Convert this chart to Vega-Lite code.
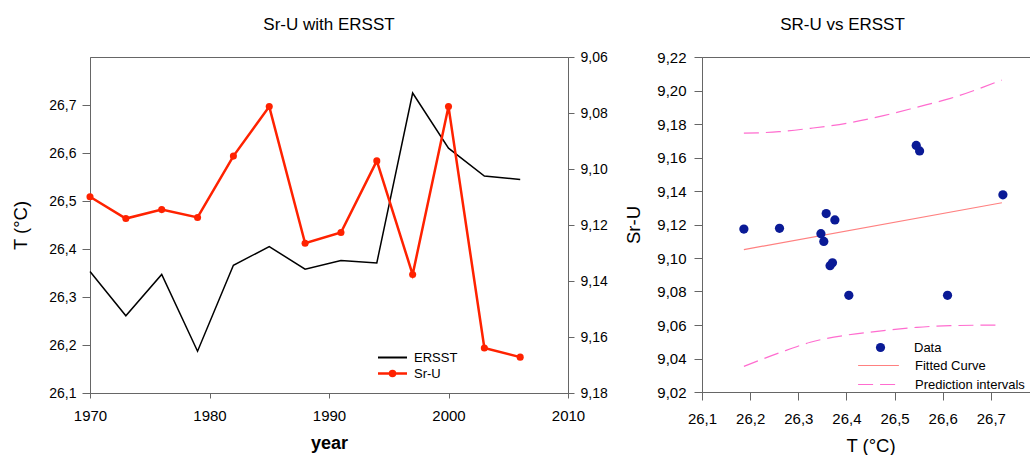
{
  "$schema": "https://vega.github.io/schema/vega-lite/v6.json",
  "padding": {"left": 11, "top": 15, "right": 0, "bottom": 0},
  "background": "white",
  "datasets": {
    "obs": [
      {"year": 1970, "T": 26.353, "Sr": 9.1099},
      {"year": 1973, "T": 26.261, "Sr": 9.1177},
      {"year": 1976, "T": 26.347, "Sr": 9.1145},
      {"year": 1979, "T": 26.187, "Sr": 9.1173},
      {"year": 1982, "T": 26.366, "Sr": 9.0954},
      {"year": 1985, "T": 26.405, "Sr": 9.0777},
      {"year": 1988, "T": 26.358, "Sr": 9.1265},
      {"year": 1991, "T": 26.376, "Sr": 9.1227},
      {"year": 1994, "T": 26.371, "Sr": 9.0971},
      {"year": 1997, "T": 26.725, "Sr": 9.1377},
      {"year": 2000, "T": 26.610, "Sr": 9.0777},
      {"year": 2003, "T": 26.552, "Sr": 9.1639},
      {"year": 2006, "T": 26.545, "Sr": 9.1672}
    ],
    "fit": [
      {"T": 26.187, "fit": 9.105},
      {"T": 26.723, "fit": 9.133}
    ],
    "pred": [
      {"bound": "upper", "T": 26.187, "v": 9.1745},
      {"bound": "upper", "T": 26.260, "v": 9.1754},
      {"bound": "upper", "T": 26.325, "v": 9.1774},
      {"bound": "upper", "T": 26.401, "v": 9.1804},
      {"bound": "upper", "T": 26.477, "v": 9.1850},
      {"bound": "upper", "T": 26.546, "v": 9.1900},
      {"bound": "upper", "T": 26.616, "v": 9.1953},
      {"bound": "upper", "T": 26.723, "v": 9.2063},
      {"bound": "lower", "T": 26.187, "v": 9.0353},
      {"bound": "lower", "T": 26.260, "v": 9.0433},
      {"bound": "lower", "T": 26.325, "v": 9.0497},
      {"bound": "lower", "T": 26.401, "v": 9.0540},
      {"bound": "lower", "T": 26.477, "v": 9.0566},
      {"bound": "lower", "T": 26.546, "v": 9.0586},
      {"bound": "lower", "T": 26.616, "v": 9.0596},
      {"bound": "lower", "T": 26.723, "v": 9.0600}
    ]
  },
  "spacing": 16,
  "resolve": {"scale": {"color": "independent", "stroke": "independent", "strokeDash": "independent"}},
  "hconcat": [
    {
      "title": {"text": "Sr-U with ERSST", "offset": 16},
      "width": 478,
      "height": 336,
      "data": {"name": "obs"},
      "resolve": {"scale": {"y": "independent"}},
      "layer": [
        {
          "mark": {"type": "line", "color": "#000000", "strokeWidth": 1.5},
          "encoding": {
            "x": {
              "field": "year", "type": "quantitative", "title": "year",
              "scale": {"domain": [1970, 2010], "nice": false, "zero": false},
              "axis": {"values": [1970, 1980, 1990, 2000, 2010], "tickCount": 20, "labelExpr": "format(datum.value, 'd')", "tickSize": 5, "labelPadding": 10, "titlePadding": 11, "labelFontSize": 15, "titleFontSize": 18, "titleFontWeight": "bold", "labelFlush": false, "labelOverlap": false}
            },
            "y": {
              "field": "T", "type": "quantitative", "title": "T (°C)",
              "scale": {"domain": [26.1, 26.8], "nice": false, "zero": false},
              "axis": {"values": [26.1, 26.2, 26.3, 26.4, 26.5, 26.6, 26.7], "tickCount": 20, "labelExpr": "replace(format(datum.value, '.1f'), '.', ',')", "tickSize": 8, "labelPadding": 6, "titlePadding": 18, "labelFontSize": 14, "titleFontSize": 18.5, "labelOverlap": false, "labelFlush": false}
            },
            "color": {
              "datum": "ERSST",
              "scale": {"domain": ["ERSST"], "range": ["#000000"]},
              "legend": {"orient": "none", "legendX": 296, "legendY": 294, "title": null, "symbolType": "M-2.9,0H2.9", "symbolSize": 100, "symbolStrokeWidth": 2, "labelOffset": 15, "labelFontSize": 13, "padding": 0}
            }
          }
        },
        {
          "layer": [
            {
              "mark": {"type": "line", "strokeWidth": 2.5},
              "encoding": {
                "x": {
                  "field": "year", "type": "quantitative", "title": "year",
                  "axis": {"values": [1970, 1980, 1990, 2000, 2010], "tickCount": 20, "labelExpr": "format(datum.value, 'd')", "tickSize": 5, "labelPadding": 10, "titlePadding": 11, "labelFontSize": 15, "titleFontSize": 18, "titleFontWeight": "bold", "labelFlush": false, "labelOverlap": false}
                },
                "y": {
                  "field": "Sr", "type": "quantitative", "title": null,
                  "scale": {"domain": [9.06, 9.18], "reverse": true, "nice": false, "zero": false},
                  "axis": {"orient": "right", "values": [9.06, 9.08, 9.1, 9.12, 9.14, 9.16, 9.18], "tickCount": 20, "labelExpr": "replace(format(datum.value, '.2f'), '.', ',')", "tickSize": 6, "labelPadding": 6, "labelFontSize": 14, "labelOverlap": false, "labelFlush": false}
                },
                "stroke": {
                  "datum": "Sr-U",
                  "scale": {"domain": ["Sr-U"], "range": ["#ff2200"]},
                  "legend": {"orient": "none", "legendX": 296, "legendY": 310, "title": null, "symbolType": "M-2.9,0H2.9M0.5,0A0.5,0.5,0,1,1,-0.5,0A0.5,0.5,0,1,1,0.5,0Z", "symbolSize": 100, "symbolStrokeWidth": 2.5, "symbolFillColor": "#ff2200", "labelOffset": 15, "labelFontSize": 13, "padding": 0}
                }
              }
            },
            {
              "mark": {"type": "point", "filled": true, "color": "#ff2200", "size": 50, "opacity": 1},
              "encoding": {
                "x": {
                  "field": "year", "type": "quantitative", "title": "year",
                  "axis": {"values": [1970, 1980, 1990, 2000, 2010], "tickCount": 20, "labelExpr": "format(datum.value, 'd')", "tickSize": 5, "labelPadding": 10, "titlePadding": 11, "labelFontSize": 15, "titleFontSize": 18, "titleFontWeight": "bold", "labelFlush": false, "labelOverlap": false}
                },
                "y": {"field": "Sr", "type": "quantitative", "title": null}
              }
            }
          ]
        }
      ]
    },
    {
      "title": {"text": "SR-U vs ERSST", "offset": 16, "dx": -28},
      "width": 337,
      "height": 335,
      "layer": [
        {
          "data": {"name": "pred"},
          "mark": {"type": "line", "color": "#ff6ccf", "strokeWidth": 1.2, "interpolate": "monotone"},
          "encoding": {
            "x": {
              "field": "T", "type": "quantitative", "title": "T (°C)",
              "scale": {"domain": [26.1, 26.8], "nice": false, "zero": false},
              "axis": {"values": [26.1, 26.2, 26.3, 26.4, 26.5, 26.6, 26.7], "tickCount": 20, "labelExpr": "replace(format(datum.value, '.1f'), '.', ',')", "tickSize": 8, "labelPadding": 11, "titlePadding": 10, "labelFontSize": 15, "titleFontSize": 18.5, "labelOverlap": false, "labelFlush": false}
            },
            "y": {
              "field": "v", "type": "quantitative", "title": "Sr-U",
              "scale": {"domain": [9.02, 9.22], "nice": false, "zero": false},
              "axis": {"values": [9.02, 9.04, 9.06, 9.08, 9.1, 9.12, 9.14, 9.16, 9.18, 9.2, 9.22], "tickCount": 20, "labelExpr": "replace(format(datum.value, '.2f'), '.', ',')", "tickSize": 8, "labelPadding": 8, "titlePadding": 13, "labelFontSize": 15, "titleFontSize": 18.5, "labelOverlap": false, "labelFlush": false}
            },
            "detail": {"field": "bound"},
            "strokeDash": {
              "datum": "Prediction intervals",
              "scale": {"domain": ["Prediction intervals"], "range": [[15, 7]]},
              "legend": {"orient": "none", "legendX": 170, "legendY": 321, "title": null, "symbolType": "M-5.1,0H5.1", "symbolSize": 64, "symbolStrokeWidth": 1.2, "symbolStrokeColor": "#ff6ccf", "labelOffset": 30, "labelFontSize": 13, "padding": 0}
            }
          }
        },
        {
          "data": {"name": "fit"},
          "mark": {"type": "line", "strokeWidth": 1.2},
          "encoding": {
            "x": {"field": "T", "type": "quantitative", "title": "T (°C)"},
            "y": {"field": "fit", "type": "quantitative", "title": "Sr-U"},
            "stroke": {
              "datum": "Fitted Curve",
              "scale": {"domain": ["Fitted Curve"], "range": ["#ff8080"]},
              "legend": {"orient": "none", "legendX": 170, "legendY": 302, "title": null, "symbolType": "M-5.1,0H5.1", "symbolSize": 64, "symbolStrokeWidth": 1.2, "labelOffset": 30, "labelFontSize": 13, "padding": 0}
            }
          }
        },
        {
          "data": {"name": "obs"},
          "mark": {"type": "point", "filled": true, "size": 85, "opacity": 1},
          "encoding": {
            "x": {"field": "T", "type": "quantitative", "title": "T (°C)"},
            "y": {"field": "Sr", "type": "quantitative", "title": "Sr-U"},
            "color": {
              "datum": "Data",
              "scale": {"domain": ["Data"], "range": ["#0a1a96"]},
              "legend": {"orient": "none", "legendX": 172, "legendY": 284, "title": null, "symbolType": "circle", "symbolSize": 85, "labelOffset": 27, "labelFontSize": 13, "padding": 0, "symbolOpacity": 1}
            }
          }
        }
      ]
    }
  ],
  "config": {
    "font": "Liberation Sans",
    "view": {"stroke": "#666666", "strokeWidth": 1},
    "axis": {
      "grid": false,
      "domainColor": "#666666",
      "tickColor": "#666666",
      "labelColor": "#000000",
      "titleColor": "#000000",
      "labelFontSize": 13,
      "titleFontSize": 17,
      "titleFontWeight": "normal",
      "labelFont": "Liberation Sans",
      "titleFont": "Liberation Sans"
    },
    "title": {"fontSize": 17, "fontWeight": "normal", "font": "Liberation Sans", "color": "#000000"},
    "legend": {"labelFont": "Liberation Sans", "labelColor": "#000000"}
  }
}
